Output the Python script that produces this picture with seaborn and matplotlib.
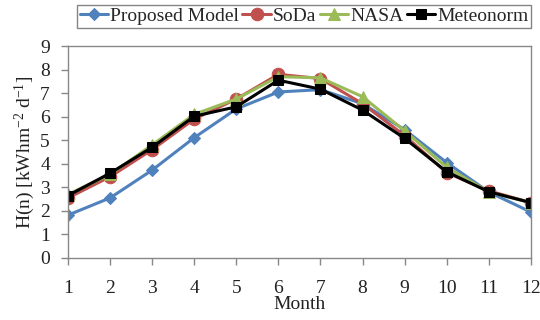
import matplotlib
matplotlib.use("Agg")
import matplotlib.pyplot as plt
import seaborn as sns
import pandas as pd

months = list(range(1, 13))
proposed = [1.82, 2.55, 3.73, 5.11, 6.33, 7.05, 7.15, 6.55, 5.45, 4.05, 2.80, 1.95]
soda = [2.55, 3.45, 4.60, 5.90, 6.75, 7.80, 7.62, 6.55, 5.20, 3.62, 2.85, 2.35]
nasa = [2.70, 3.55, 4.80, 6.10, 6.75, 7.70, 7.65, 6.85, 5.40, 3.85, 2.80, 2.35]
meteonorm = [2.65, 3.60, 4.70, 6.02, 6.42, 7.55, 7.17, 6.28, 5.08, 3.66, 2.81, 2.35]
series_names = ["Proposed Model", "SoDa", "NASA", "Meteonorm"]

sns.set_theme(style="white")
plt.rcParams["font.family"] = ["Liberation Serif", "DejaVu Serif"]
plt.rcParams["mathtext.fontset"] = "custom"
plt.rcParams["mathtext.rm"] = "Liberation Serif"
plt.rcParams["mathtext.it"] = "Liberation Serif"

df = pd.DataFrame({
    "Month": months * 4,
    "H": proposed + soda + nasa + meteonorm,
    "Series": sum([[n] * 12 for n in series_names], []),
})

palette = {"Proposed Model": "#4F81BD", "SoDa": "#C0504D",
           "NASA": "#9BBB59", "Meteonorm": "#000000"}
markers = {"Proposed Model": "D", "SoDa": "o", "NASA": "^", "Meteonorm": "s"}
sizes = {"Proposed Model": 6.5, "SoDa": 9, "NASA": 9, "Meteonorm": 7.5}

fig = plt.figure(figsize=(5.4, 3.2), dpi=100)
ax = fig.add_axes([0.126, 0.194, 0.857, 0.662])

for name in series_names:
    sub = df[df["Series"] == name]
    sns.lineplot(data=sub, x="Month", y="H", ax=ax, color=palette[name],
                 marker=markers[name], markersize=sizes[name],
                 markeredgecolor=palette[name], linewidth=2.2, label=name)

ax.set_xlim(1, 12)
ax.set_ylim(0, 9)
ax.set_xticks(months)
ax.set_yticks(range(0, 10))
ax.tick_params(axis="both", labelsize=14, labelcolor="#222222", length=5,
               direction="out", bottom=True, left=True, width=1,
               color="#888888")
ax.tick_params(axis="x", pad=11)
ax.tick_params(axis="y", pad=8)
ax.set_xlabel("Month", fontsize=14, labelpad=-1, color="#222222")
ax.set_ylabel("H(n) [kWhm$^{-2}$ d$^{-1}$]", fontsize=14, labelpad=2, color="#222222")
for s in ax.spines.values():
    s.set_visible(True)
    s.set_color("#888888")
    s.set_linewidth(1)

leg = ax.legend(loc="lower center", bbox_to_anchor=(0.51, 1.085), ncol=4,
                fontsize=14, frameon=True, fancybox=False, handlelength=1.45,
                handletextpad=0.1, columnspacing=0.2, borderpad=0.15,
                borderaxespad=0, edgecolor="#666666")
leg.get_frame().set_linewidth(1)

fig.savefig("out.png", dpi=100)
